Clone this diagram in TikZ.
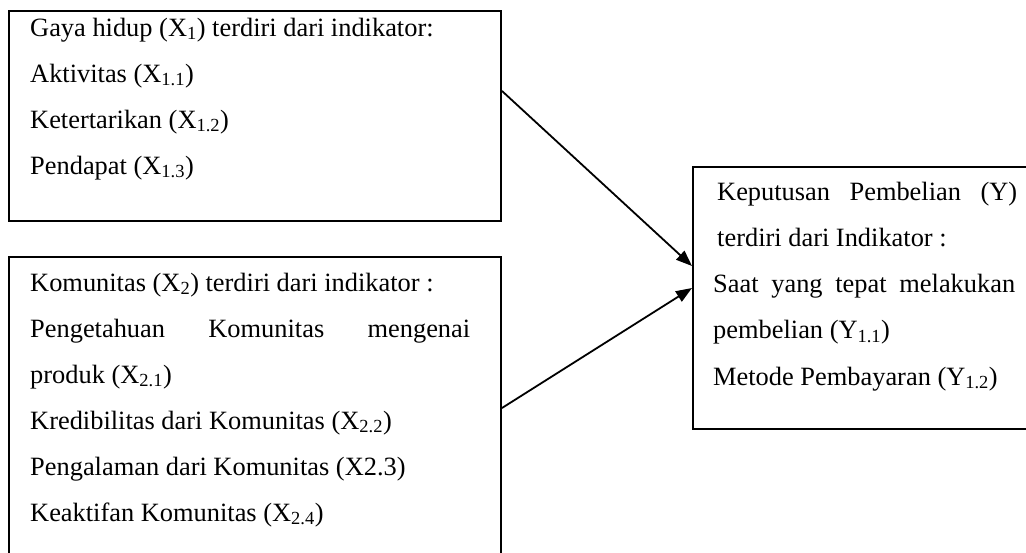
\documentclass[tikz,border=0pt]{standalone}
\usepackage{fontspec}
\setmainfont{Liberation Serif}
\usetikzlibrary{arrows.meta,positioning}

\begin{document}
\begin{tikzpicture}[x=1pt,y=-1pt,>={Triangle[length=16pt,width=12pt]},
    framebox/.style={draw,line width=2pt,inner sep=0pt,anchor=north west},
    rowtext/.style={anchor=base west,inner sep=0pt,font=\fontsize{26.4}{46}\selectfont},
    linkarrow/.style={->,line width=1.8pt}]
  \useasboundingbox (0,0) rectangle (1026,552);
  % the three boxes
  \node[framebox,minimum width=492pt,minimum height=210pt] (lifestyle) at (8,10) {};
  \node[framebox,minimum width=492pt,minimum height=330pt] (community) at (8,256) {};
  \node[framebox,minimum width=360pt,minimum height=262pt] (decision) at (692,166) {};
  % lines of text
  \foreach \t [count=\i] in {{Gaya hidup (X\textsubscript{1}) terdiri dari indikator:},
      {Aktivitas (X\textsubscript{1.1})},{Ketertarikan (X\textsubscript{1.2})},
      {Pendapat (X\textsubscript{1.3})}}
    \node[rowtext] (lifestyle-\i) at (30,{36+46*(\i-1)}) {\t};
  \foreach \t [count=\i] in {{Komunitas (X\textsubscript{2}) terdiri dari indikator :},
      {\makebox[440pt][s]{Pengetahuan Komunitas mengenai}},
      {produk (X\textsubscript{2.1})},
      {Kredibilitas dari Komunitas (X\textsubscript{2.2})},
      {Pengalaman dari Komunitas (X2.3)},
      {Keaktifan Komunitas (X\textsubscript{2.4})}}
    \node[rowtext] (community-\i) at (30,{291+46*(\i-1)}) {\t};
  \foreach \x/\t [count=\i] in {717/{\makebox[300pt][s]{Keputusan Pembelian (Y)}},
      717/{terdiri dari Indikator :},
      713/{\makebox[302pt][s]{Saat yang tepat melakukan}},
      713/{pembelian (Y\textsubscript{1.1})},
      713/{Metode Pembayaran (Y\textsubscript{1.2})}}
    \node[rowtext] (decision-\i) at (\x,{200+46.3*(\i-1)}) {\t};
  % arrows
  \draw[linkarrow] ([yshift=25pt]lifestyle.east) -- ([yshift=32pt]decision.west);
  \draw[linkarrow] ([yshift=14pt]community.east) -- ([yshift=10pt]decision.west);
\end{tikzpicture}
\end{document}
